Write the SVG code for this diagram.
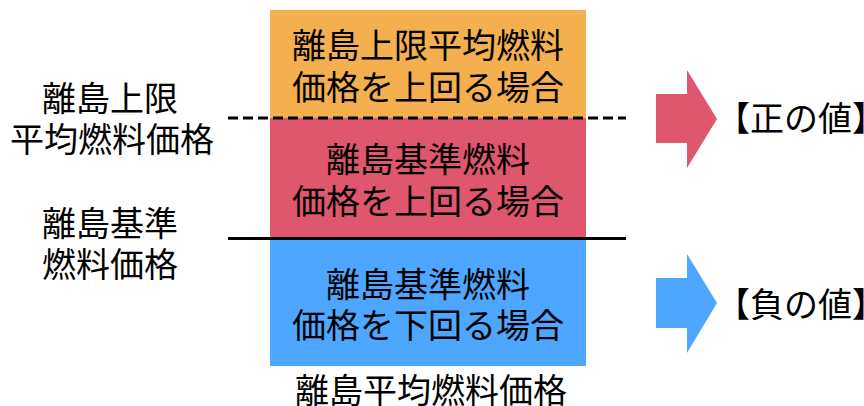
<svg xmlns="http://www.w3.org/2000/svg" width="864" height="406" viewBox="0 0 864 406">
<style>
text{font-family:"Noto Sans CJK JP","Noto Sans",sans-serif;font-size:34px;fill:#000;text-anchor:middle}
.line{stroke:#000;stroke-width:3;fill:none}
</style>
<rect width="864" height="406" fill="#fff"/>
<g id="box-upper">
<rect x="270" y="10" width="316" height="108" fill="#F4B04E"/>
<text x="428" y="58">離島上限平均燃料</text>
<text x="428" y="100">価格を上回る場合</text>
</g>
<g id="box-middle">
<rect x="270" y="118" width="316" height="120" fill="#DF566F"/>
<text x="428" y="172">離島基準燃料</text>
<text x="428" y="214">価格を上回る場合</text>
</g>
<g id="box-lower">
<rect x="270" y="238" width="316" height="128" fill="#4DA6FF"/>
<text x="428" y="297">離島基準燃料</text>
<text x="428" y="338">価格を下回る場合</text>
</g>
<g id="label-bottom">
<text x="431" y="403">離島平均燃料価格</text>
</g>
<g id="label-upper">
<text x="110" y="111">離島上限</text>
<text x="112" y="152">平均燃料価格</text>
</g>
<g id="label-base">
<text x="110" y="236">離島基準</text>
<text x="110" y="277">燃料価格</text>
</g>
<g id="connectors">
<line class="line" x1="228" y1="118" x2="626" y2="118" stroke-dasharray="10 5"/>
<line class="line" x1="228" y1="238.5" x2="626" y2="238.5"/>
</g>
<g id="arrow-positive">
<polygon points="656,94 687,94 687,70 717,119 687,168 687,143 656,143" fill="#DF566F"/>
<text x="801" y="131">【正の値】</text>
</g>
<g id="arrow-negative">
<polygon points="656,278 687,278 687,254 717,303 687,353 687,328 656,328" fill="#4DA6FF"/>
<text x="801" y="317">【負の値】</text>
</g>
</svg>
